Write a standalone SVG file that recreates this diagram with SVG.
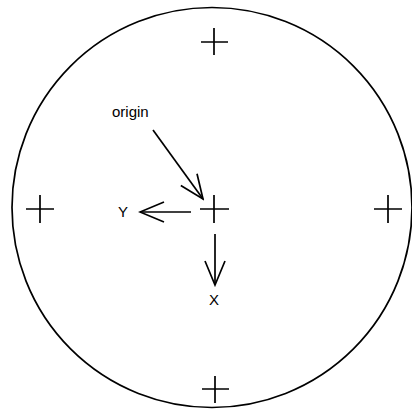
<svg xmlns="http://www.w3.org/2000/svg" width="412" height="409" viewBox="0 0 412 409">
<defs>
<style>
.ln{stroke:#000;stroke-width:1.7;fill:none;stroke-linecap:butt}
.t{font-family:"Liberation Sans",Arial,sans-serif;font-size:15px;fill:#000}
</style>
<marker id="ah" markerUnits="userSpaceOnUse" viewBox="-26 -12 28 24" markerWidth="28" markerHeight="24" refX="0" refY="0" orient="auto">
<path d="M-24,-10 L0,0 L-24,10" fill="none" stroke="#000" stroke-width="1.7"/>
</marker>
</defs>
<rect width="412" height="409" fill="#fff"/>
<g id="plate"><circle class="ln" cx="212" cy="207.5" r="200"/></g>
<g id="cross-top"><path class="ln" d="M201,42H228M214,28V55"/></g>
<g id="cross-left"><path class="ln" d="M26,209H54M40,195V223"/></g>
<g id="cross-center"><path class="ln" d="M200,209H229M214,195V223"/></g>
<g id="cross-right"><path class="ln" d="M374,209H402M388,195V223"/></g>
<g id="cross-bottom"><path class="ln" d="M202,389H229M215,376V403"/></g>
<g id="label-origin"><text class="t" x="112" y="117">origin</text></g>
<g id="label-y"><text class="t" x="118" y="217">Y</text></g>
<g id="label-x"><text class="t" x="209" y="305">X</text></g>
<g id="connectors">
<path class="ln" d="M153,130L203,199" marker-end="url(#ah)"/>
<path class="ln" d="M191,212H140" marker-end="url(#ah)"/>
<path class="ln" d="M215,234V285" marker-end="url(#ah)"/>
</g>
</svg>
